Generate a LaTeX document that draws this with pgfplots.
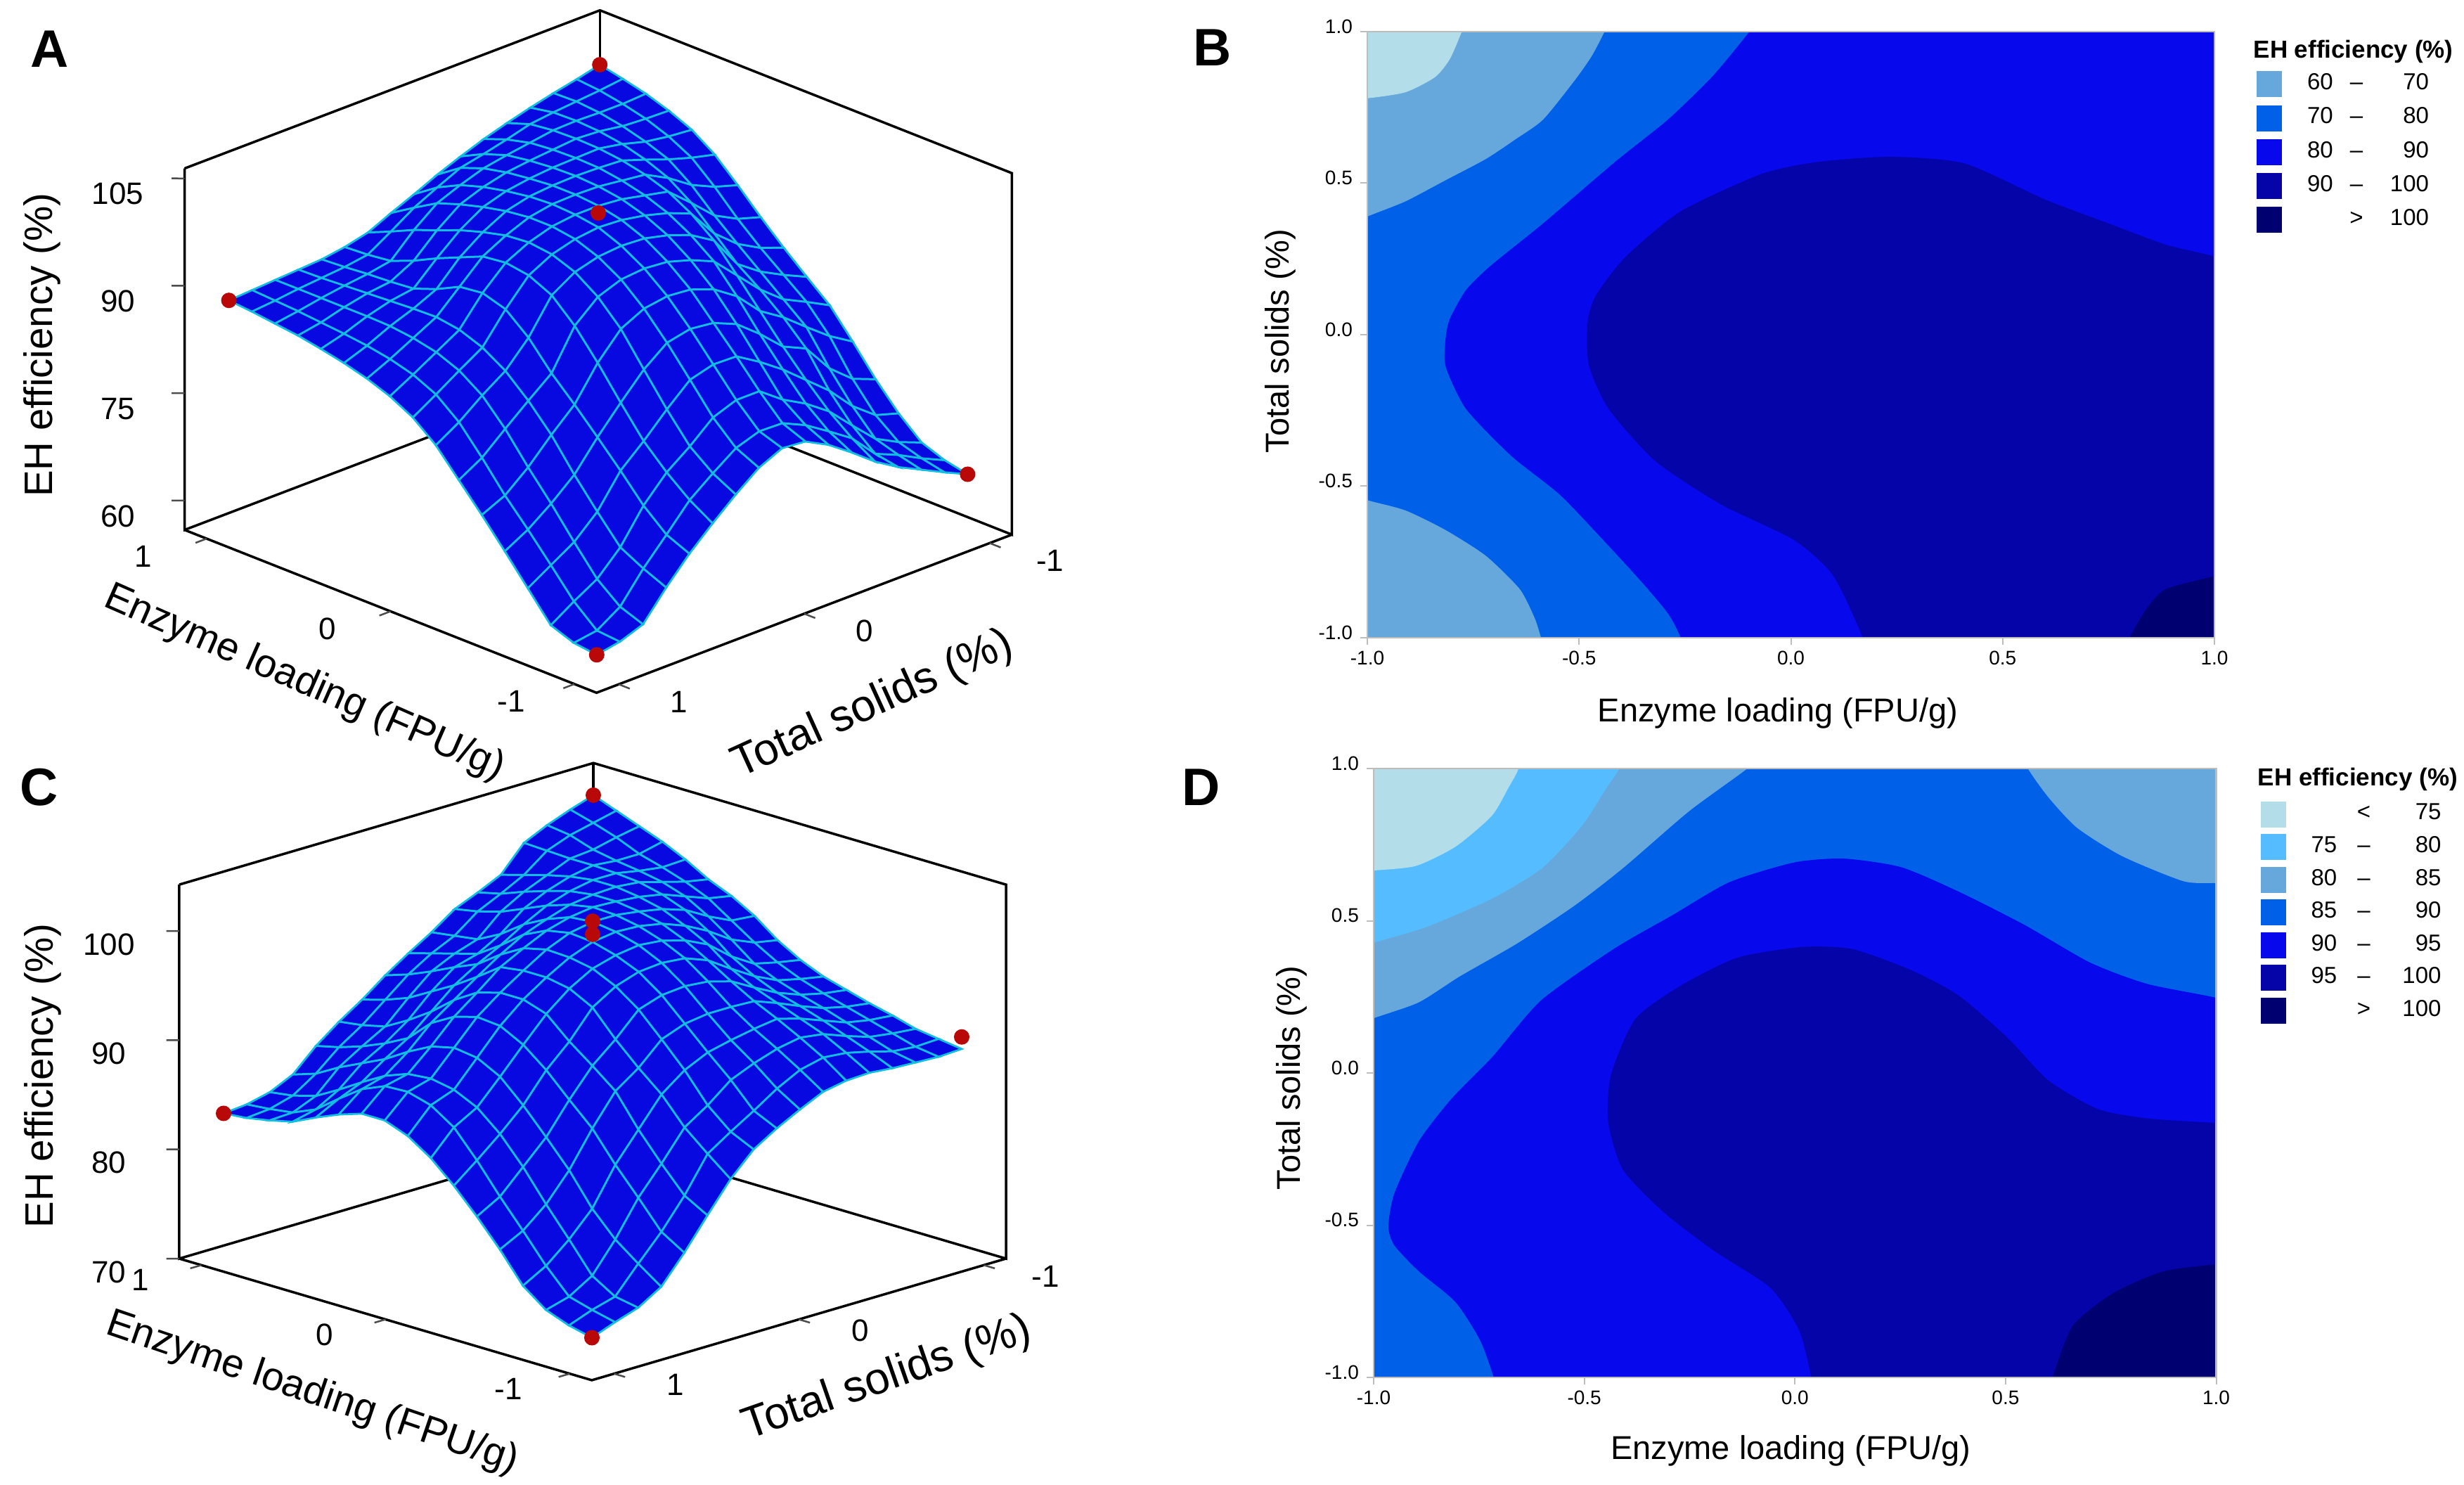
\documentclass[border=0pt]{standalone}
\usepackage{fontspec}
\setmainfont{Liberation Sans}
\usepackage{pgfplots}
\usepackage{pgfplotstable}
\pgfplotsset{compat=1.18}

\definecolor{surfblue}{HTML}{0808E0}
\definecolor{surfcyan}{HTML}{10BEE0}
\definecolor{dotred}{HTML}{B80808}
\definecolor{lev0}{HTML}{B2DDE9}
\definecolor{levs}{HTML}{55BDFF}
\definecolor{lev1}{HTML}{67A8DC}
\definecolor{lev2}{HTML}{0060E8}
\definecolor{lev3}{HTML}{0808EC}
\definecolor{lev4}{HTML}{0404A8}
\definecolor{lev5}{HTML}{000070}
\definecolor{framegray}{HTML}{BDBDBD}

% surface heights, 17 x 17, rows from total solids = 1 to -1, enzyme -1 to 1
\pgfplotstableread[row sep=\\]{z\\
58.8\\59.2\\60.4\\64.3\\68.2\\72.0\\75.6\\79.2\\81.8\\83.5\\84.7\\85.6\\86.3\\86.9\\87.3\\87.7\\88.0\\
59.4\\59.7\\62.5\\66.3\\70.0\\73.5\\77.5\\81.2\\83.8\\85.3\\86.2\\86.8\\87.2\\87.5\\87.8\\88.0\\88.2\\
60.6\\61.8\\64.4\\68.3\\72.4\\76.2\\80.3\\83.7\\85.9\\87.2\\87.9\\88.3\\88.4\\88.4\\88.4\\88.4\\88.4\\
64.5\\65.9\\67.6\\71.3\\75.2\\79.5\\83.0\\85.9\\87.9\\89.1\\89.6\\89.5\\89.3\\89.1\\88.9\\88.7\\88.6\\
68.0\\69.4\\72.2\\75.8\\79.2\\82.5\\85.6\\89.3\\92.0\\93.0\\92.6\\91.0\\89.8\\89.5\\89.3\\89.0\\88.8\\
71.0\\73.0\\75.6\\78.7\\82.8\\87.1\\91.0\\94.0\\95.5\\96.0\\95.6\\94.2\\92.8\\91.2\\89.9\\89.5\\89.3\\
73.8\\75.5\\78.0\\81.9\\86.2\\90.6\\93.8\\96.0\\97.2\\97.6\\97.3\\96.5\\95.5\\94.2\\93.0\\91.5\\90.1\\
76.3\\77.8\\80.8\\84.8\\88.7\\92.2\\95.0\\96.9\\98.1\\98.6\\98.6\\98.2\\97.5\\96.6\\95.5\\93.6\\91.6\\
77.8\\78.9\\82.0\\85.7\\89.4\\92.7\\95.3\\97.2\\98.5\\99.0\\99.2\\99.0\\98.5\\97.8\\96.8\\95.2\\93.0\\
77.5\\78.8\\82.0\\85.6\\89.0\\92.4\\95.0\\97.0\\98.3\\99.0\\99.3\\99.3\\99.0\\98.6\\97.9\\96.7\\94.5\\
75.8\\77.3\\79.6\\83.6\\87.6\\91.2\\94.0\\96.2\\97.7\\98.7\\99.2\\99.4\\99.3\\99.0\\98.5\\97.4\\95.8\\
73.5\\75.2\\77.8\\81.3\\85.0\\89.0\\92.6\\95.0\\96.8\\98.0\\98.8\\99.3\\99.4\\99.3\\99.0\\98.2\\97.0\\
71.0\\73.0\\75.5\\78.6\\82.0\\85.7\\89.4\\93.0\\95.5\\97.3\\98.4\\99.1\\99.5\\99.6\\99.5\\99.1\\98.0\\
69.0\\69.6\\72.3\\75.9\\80.5\\83.6\\86.2\\88.5\\91.5\\94.5\\96.7\\98.0\\98.9\\99.4\\99.6\\99.5\\98.9\\
67.4\\68.2\\69.2\\72.5\\76.5\\81.0\\83.6\\86.2\\88.8\\91.5\\94.5\\96.8\\98.0\\98.9\\99.5\\99.8\\99.7\\
65.8\\66.5\\67.5\\70.0\\73.8\\78.5\\82.0\\84.5\\87.0\\89.8\\93.0\\95.8\\97.5\\98.7\\99.5\\100.1\\100.4\\
64.3\\65.0\\66.2\\69.0\\72.5\\76.5\\80.3\\83.0\\85.8\\88.8\\92.0\\95.0\\97.2\\98.6\\99.7\\100.5\\101.2\\
}\tabA

\pgfplotstableread[row sep=\\]{z\\
72.7\\73.2\\74.0\\75.6\\78.3\\80.7\\82.9\\84.8\\86.2\\87.0\\87.0\\86.3\\85.4\\84.4\\83.9\\83.5\\83.3\\
73.5\\74.0\\74.6\\76.8\\79.4\\81.9\\84.6\\87.0\\88.4\\89.0\\88.9\\88.0\\86.5\\84.9\\84.0\\83.7\\83.5\\
74.2\\74.6\\75.9\\78.6\\81.2\\84.0\\86.4\\88.2\\89.2\\89.6\\89.4\\88.6\\87.4\\86.1\\84.9\\84.3\\84.0\\
75.5\\77.0\\78.6\\80.8\\83.7\\86.1\\88.4\\90.4\\91.5\\91.8\\91.3\\90.2\\88.9\\87.9\\86.9\\85.7\\85.0\\
78.0\\79.3\\81.8\\84.2\\86.9\\88.9\\91.0\\92.7\\93.8\\94.0\\93.4\\92.2\\90.2\\89.1\\88.2\\87.5\\87.0\\
80.8\\82.0\\84.3\\86.8\\89.7\\91.4\\93.0\\94.9\\95.6\\95.6\\95.0\\93.7\\92.0\\90.6\\89.4\\88.9\\88.6\\
83.5\\85.2\\87.0\\89.4\\91.2\\93.2\\95.5\\96.6\\97.0\\97.0\\96.7\\95.2\\93.8\\92.6\\91.4\\90.6\\90.0\\
85.6\\86.6\\88.4\\91.0\\93.2\\95.3\\96.8\\97.8\\98.2\\98.3\\97.8\\96.6\\95.1\\94.2\\93.2\\92.3\\91.6\\
86.9\\87.9\\90.1\\92.0\\94.0\\96.0\\97.5\\98.4\\99.0\\99.2\\98.8\\97.8\\96.2\\94.8\\94.2\\93.6\\93.0\\
88.0\\89.3\\91.0\\92.5\\94.3\\96.2\\97.7\\98.7\\99.3\\99.6\\99.4\\98.6\\97.5\\96.0\\94.9\\94.6\\94.3\\
89.0\\90.4\\91.7\\92.9\\94.3\\96.0\\97.5\\98.5\\99.2\\99.6\\99.7\\99.3\\98.6\\97.7\\96.8\\96.2\\95.8\\
89.4\\90.9\\92.1\\93.2\\94.2\\95.4\\96.7\\97.9\\98.8\\99.3\\99.6\\99.6\\99.3\\98.7\\98.0\\97.2\\96.7\\
89.5\\90.7\\91.8\\92.6\\93.4\\94.2\\95.3\\96.9\\98.0\\98.9\\99.4\\99.7\\99.7\\99.4\\98.9\\98.3\\97.7\\
89.3\\90.2\\91.0\\91.8\\92.5\\93.1\\94.0\\95.2\\96.9\\98.2\\99.0\\99.5\\99.7\\99.8\\99.8\\99.9\\100.0\\
89.2\\89.6\\90.3\\91.0\\91.7\\92.3\\93.0\\93.9\\95.5\\97.0\\98.2\\98.9\\99.3\\99.6\\100.0\\100.7\\101.0\\
89.1\\89.4\\90.0\\90.6\\91.2\\91.8\\92.5\\93.4\\94.6\\96.0\\97.4\\98.3\\99.0\\99.6\\100.5\\101.2\\101.8\\
89.2\\89.5\\89.8\\90.4\\90.9\\91.5\\92.1\\93.0\\94.2\\95.8\\97.0\\97.9\\99.1\\100.1\\100.9\\101.7\\102.5\\
}\tabC

\newcommand{\fsz}[1]{\fontsize{#1}{#1}\selectfont}
\newcommand{\lrow}[3]{\hspace*{5.2pt}\makebox[10pt][l]{#1}\makebox[8pt][c]{#2}\makebox[16.6pt][r]{#3}}
\newcommand{\lrowD}[3]{\hspace*{5.2pt}\makebox[10pt][l]{#1}\makebox[10pt][c]{#2}\makebox[17pt][r]{#3}}

\pgfplotsset{
  surfaxis/.style={
    clip=false,
    axis line style={draw=none},
    tick style={draw=none},
    xmin=-1.12,xmax=1.12,ymin=-1.12,ymax=1.12,
    xtick={-1,0,1},ytick={-1,0,1},
    /pgf/number format/assume math mode=true,
    ticklabel style={font=\fsz{8.8}},
    x label style={font=\fsz{11.3}},
    y label style={font=\fsz{12.7}},
    z label style={font=\fsz{11.3}},
    unbounded coords=jump,
    colormap={solidblue}{color=(surfblue) color=(surfblue)},
  },
  surfmesh/.style={surf,shader=faceted,faceted color=surfcyan,line width=0.55pt,z buffer=sort,mesh/rows=17,mesh/cols=17},
  boxline/.style={black,line width=0.7pt,mark=none,forget plot},
  tickmark/.style={black!70,line width=0.5pt,mark=none,forget plot},
  reddot/.style={only marks,mark=*,mark size=2pt,color=dotred,mark options={solid,fill=dotred,draw=dotred}},
  contouraxis/.style={
    scale only axis,
    clip mode=individual,
    axis on top,
    xmin=-1,xmax=1,ymin=-1,ymax=1,
    xtick={-1,-0.5,0,0.5,1},ytick={-1,-0.5,0,0.5,1},
    tick pos=lower,
    tick align=outside,
    axis line style={framegray,line width=0.5pt},
    tick style={framegray,line width=0.4pt},
    major tick length=2pt,
    /pgf/number format/assume math mode=true,
    /pgf/number format/fixed,
    /pgf/number format/fixed zerofill,
    /pgf/number format/precision=1,
    ticklabel style={font=\fsz{5.6}},
    xticklabel style={yshift=1.8pt},
    yticklabel style={xshift=1.3pt,yshift=1.5pt},
    label style={font=\fsz{9.4}},
    legend cell align=left,
    legend style={draw=none,fill=none,inner sep=0pt,outer sep=0pt,font=\fsz{6.6},row sep=-0.45pt},
    legend image code/.code={\fill[##1] (0pt,-3.7pt) rectangle (7.2pt,3.7pt);},
  },
  swatch/.style={fill=#1,draw=none},
  region/.style={fill=#1,draw=none,forget plot,mark=none},
  curve/.style={region=#1,smooth,tension=0.4},
}

\begin{document}
\begin{tikzpicture}
\path[use as bounding box] (0,0) rectangle (701pt,-422.4pt);

% panel A
\begin{axis}[surfaxis,
  at={(170.2pt,-151.4pt)},anchor=origin,
  x={(-52.32pt,20.68pt)},y={(-52.76pt,-20.08pt)},z={(0pt,2.036pt)},
  zmin=55.9,zmax=106.4,
  ztick={60,75,90,105},
  xticklabel style={anchor=center,xshift=-18pt,yshift=-5pt},
  yticklabel style={anchor=center,xshift=17.2pt,yshift=-5pt},
  zticklabel style={anchor=center,xshift=-19pt,yshift=-4.4pt},
  xlabel={Enzyme loading (FPU/g)},
  ylabel={Total solids (\%)},
  zlabel={EH efficiency (\%)},
  x label style={at={(axis cs:-0.275,1.858,55.9)},anchor=center,rotate=-23.7},
  y label style={at={(axis cs:-1.945,0.447,55.9)},anchor=center,rotate=24.4},
  z label style={at={(axis cs:1.505,1.505,81.6)},anchor=center},
]
\addplot3[boxline] coordinates {(1.12,1.12,106.4) (1.12,-1.12,106.4) (-1.12,-1.12,106.4) (-1.12,-1.12,55.9) (1.12,-1.12,55.9) (1.12,1.12,55.9) (1.12,1.12,106.4)};
\addplot3[boxline] coordinates {(1.12,1.12,55.9) (-1.12,1.12,55.9) (-1.12,-1.12,55.9)};
\addplot3[boxline] coordinates {(1.12,-1.12,55.9) (1.12,-1.12,106.4)};
\addplot3[tickmark] coordinates {(-1,1.12,55.9) (-1,1.18,55.9) (nan,nan,nan) (0,1.12,55.9) (0,1.18,55.9) (nan,nan,nan) (1,1.12,55.9) (1,1.18,55.9) (nan,nan,nan)
  (-1.12,-1,55.9) (-1.18,-1,55.9) (nan,nan,nan) (-1.12,0,55.9) (-1.18,0,55.9) (nan,nan,nan) (-1.12,1,55.9) (-1.18,1,55.9) (nan,nan,nan)
  (1.12,1.12,60) (1.155,1.155,60) (nan,nan,nan) (1.12,1.12,75) (1.155,1.155,75) (nan,nan,nan) (1.12,1.12,90) (1.155,1.155,90) (nan,nan,nan) (1.12,1.12,105) (1.155,1.155,105)};
\addplot3[surfmesh] table[x expr={-1+floor(mod(\coordindex+0.5,17))/8},y expr={1-floor((\coordindex+0.5)/17)/8},z index=0,x index=0,y index=0] {\tabA};
\addplot3[reddot] coordinates {(-1,1,58.8) (1,1,88.0) (-1,-1,64.3) (1,-1,101.2) (0,0,100.5)};
\end{axis}

% panel C
\begin{axis}[surfaxis,
  at={(168.6pt,-358pt)},anchor=origin,
  x={(-52.4pt,15.44pt)},y={(-52.6pt,-15.44pt)},z={(0pt,3.106pt)},
  zmin=70,zmax=104.25,
  ztick={70,80,90,100},
  xticklabel style={anchor=center,xshift=-17.4pt,yshift=-4.3pt},
  yticklabel style={anchor=center,xshift=17.5pt,yshift=-3.2pt},
  zticklabel style={anchor=center,xshift=-20pt,yshift=-3.8pt},
  xlabel={Enzyme loading (FPU/g)},
  ylabel={Total solids (\%)},
  zlabel={EH efficiency (\%)},
  x label style={at={(axis cs:-0.486,2.0,70)},anchor=center,rotate=-18.8},
  y label style={at={(axis cs:-1.908,0.307,70)},anchor=center,rotate=19.2},
  z label style={at={(axis cs:1.49,1.49,86.74)},anchor=center},
]
\addplot3[boxline] coordinates {(1.12,1.12,104.25) (1.12,-1.12,104.25) (-1.12,-1.12,104.25) (-1.12,-1.12,70) (1.12,-1.12,70) (1.12,1.12,70) (1.12,1.12,104.25)};
\addplot3[boxline] coordinates {(1.12,1.12,70) (-1.12,1.12,70) (-1.12,-1.12,70)};
\addplot3[boxline] coordinates {(1.12,-1.12,70) (1.12,-1.12,104.25)};
\addplot3[tickmark] coordinates {(-1,1.12,70) (-1,1.18,70) (nan,nan,nan) (0,1.12,70) (0,1.18,70) (nan,nan,nan) (1,1.12,70) (1,1.18,70) (nan,nan,nan)
  (-1.12,-1,70) (-1.18,-1,70) (nan,nan,nan) (-1.12,0,70) (-1.18,0,70) (nan,nan,nan) (-1.12,1,70) (-1.18,1,70) (nan,nan,nan)
  (1.12,1.12,70) (1.155,1.155,70) (nan,nan,nan) (1.12,1.12,80) (1.155,1.155,80) (nan,nan,nan) (1.12,1.12,90) (1.155,1.155,90) (nan,nan,nan) (1.12,1.12,100) (1.155,1.155,100)};
\addplot3[surfmesh] table[x expr={-1+floor(mod(\coordindex+0.5,17))/8},y expr={1-floor((\coordindex+0.5)/17)/8},z index=0,x index=0,y index=0] {\tabC};
\addplot3[reddot] coordinates {(-1,1,72.7) (1,1,83.3) (-1,-1,90.3) (1,-1,102.5) (0,0,100.9) (0,0,99.7)};
\end{axis}

% panel B
\begin{axis}[contouraxis,
  at={(389pt,-181.4pt)},anchor=south west,width=241pt,height=172.4pt,
  xlabel={Enzyme loading (FPU/g)},ylabel={Total solids (\%)},
  x label style={at={(axis description cs:0.4846,-0.124)},anchor=center},
  y label style={at={(axis description cs:-0.103,0.4896)},anchor=center},
  legend style={at={(axis description cs:1.0498,0.9425)},anchor=north west},
]
\addplot[region=lev2] coordinates {(-1,-1) (1,-1) (1,1) (-1,1)} --cycle;
\addplot[curve=lev1] coordinates {(-1.25,0.25) (-1.1,0.33) (-1,0.39) (-0.91,0.44) (-0.815,0.51) (-0.72,0.58) (-0.65,0.645) (-0.585,0.71) (-0.51,0.84) (-0.47,0.92) (-0.44,1) (-0.40,1.12) (-0.36,1.3) (-1.5,1.5)};
\addplot[curve=lev0] coordinates {(-1.2,0.76) (-1.1,0.77) (-1,0.78) (-0.91,0.80) (-0.84,0.85) (-0.805,0.91) (-0.777,1) (-0.75,1.1) (-0.72,1.3) (-1.5,1.5)};
\addplot[curve=lev1] coordinates {(-1.25,-0.43) (-1.1,-0.5) (-1,-0.546) (-0.91,-0.58) (-0.815,-0.645) (-0.72,-0.73) (-0.64,-0.84) (-0.605,-0.935) (-0.59,-1) (-0.57,-1.1) (-0.55,-1.3) (-1.5,-1.5)};
\addplot[curve=lev3] coordinates {(0,1.3) (-0.05,1.1) (-0.098,1) (-0.184,0.854) (-0.29,0.71) (-0.415,0.57) (-0.585,0.367) (-0.71,0.226) (-0.767,0.147) (-0.805,0.053) (-0.815,-0.01) (-0.815,-0.105) (-0.767,-0.245) (-0.66,-0.40) (-0.547,-0.526) (-0.45,-0.667) (-0.356,-0.81) (-0.29,-0.92) (-0.26,-1) (-0.24,-1.1) (-0.2,-1.3) (1.5,-1.5) (1.5,1.5)};
\addplot[curve=lev4] coordinates {(0.22,-1.3) (0.19,-1.1) (0.17,-1) (0.10,-0.795) (0.007,-0.677) (-0.165,-0.56) (-0.32,-0.417) (-0.43,-0.245) (-0.477,-0.10) (-0.48,0.04) (-0.46,0.13) (-0.39,0.257) (-0.26,0.407) (-0.07,0.53) (0.063,0.57) (0.235,0.587) (0.41,0.565) (0.6,0.446) (0.75,0.367) (0.885,0.297) (1,0.258) (1.12,0.2) (1.3,0.12) (1.5,-1.5)};
\addplot[curve=lev5] coordinates {(1.3,-0.72) (1.12,-0.76) (1,-0.797) (0.885,-0.84) (0.84,-0.904) (0.80,-1) (0.77,-1.1) (0.74,-1.3) (1.5,-1.5)};
\addlegendimage{swatch=lev1}\addlegendentry{\lrow{60}{–}{70}}
\addlegendimage{swatch=lev2}\addlegendentry{\lrow{70}{–}{80}}
\addlegendimage{swatch=lev3}\addlegendentry{\lrow{80}{–}{90}}
\addlegendimage{swatch=lev4}\addlegendentry{\lrow{90}{–}{100}}
\addlegendimage{swatch=lev5}\addlegendentry{\lrow{}{>}{100}}
\node[font=\bfseries\fsz{7},anchor=center] at (axis description cs:1.164,0.9675) {EH efficiency (\%)};
\end{axis}

% panel D
\begin{axis}[contouraxis,
  at={(390.8pt,-391.8pt)},anchor=south west,width=239.7pt,height=173.2pt,
  xlabel={Enzyme loading (FPU/g)},ylabel={Total solids (\%)},
  x label style={at={(axis description cs:0.495,-0.12)},anchor=center},
  y label style={at={(axis description cs:-0.0977,0.492)},anchor=center},
  legend style={at={(axis description cs:1.0526,0.9535)},anchor=north west,row sep=-0.8pt},
]
\addplot[region=lev2] coordinates {(-1,-1) (1,-1) (1,1) (-1,1)} --cycle;
\addplot[curve=lev1] coordinates {(-1.25,0.06) (-1.1,0.13) (-1,0.18) (-0.893,0.232) (-0.796,0.317) (-0.66,0.425) (-0.524,0.549) (-0.408,0.673) (-0.252,0.859) (-0.113,1) (-0.03,1.1) (0.1,1.3) (-1.5,1.5)};
\addplot[curve=levs] coordinates {(-1.25,0.33) (-1.1,0.39) (-1,0.428) (-0.874,0.48) (-0.72,0.572) (-0.60,0.673) (-0.505,0.813) (-0.447,0.937) (-0.417,1) (-0.39,1.1) (-0.35,1.3) (-1.5,1.5)};
\addplot[curve=lev0] coordinates {(-1.25,0.64) (-1.1,0.655) (-1,0.665) (-0.90,0.68) (-0.806,0.743) (-0.72,0.844) (-0.68,0.937) (-0.656,1) (-0.64,1.1) (-0.6,1.3) (-1.5,1.5)};
\addplot[curve=lev1] coordinates {(0.5,1.3) (0.52,1.1) (0.553,1) (0.602,0.905) (0.67,0.805) (0.777,0.712) (0.922,0.63) (1,0.624) (1.1,0.62) (1.3,0.62) (1.5,1.5)};
\addplot[curve=lev3] coordinates {(-0.68,-1.3) (-0.70,-1.1) (-0.715,-1) (-0.748,-0.876) (-0.806,-0.752) (-0.893,-0.651) (-0.951,-0.566) (-0.965,-0.504) (-0.951,-0.396) (-0.893,-0.225) (-0.816,-0.086) (-0.718,0.053) (-0.602,0.239) (-0.427,0.41) (-0.291,0.518) (-0.155,0.627) (0.0,0.692) (0.117,0.704) (0.252,0.676) (0.388,0.596) (0.544,0.487) (0.70,0.363) (0.835,0.293) (1,0.247) (1.12,0.2) (1.3,0.12) (1.5,-1.5)};
\addplot[curve=lev4] coordinates {(0.06,-1.3) (0.05,-1.1) (0.039,-1) (0.01,-0.845) (-0.058,-0.706) (-0.194,-0.582) (-0.311,-0.458) (-0.408,-0.318) (-0.443,-0.163) (-0.437,-0.008) (-0.379,0.177) (-0.272,0.286) (-0.136,0.379) (0.019,0.414) (0.136,0.407) (0.272,0.34) (0.388,0.255) (0.505,0.115) (0.602,-0.025) (0.718,-0.118) (0.835,-0.149) (1,-0.164) (1.12,-0.17) (1.3,-0.18) (1.5,-1.5)};
\addplot[curve=lev5] coordinates {(0.58,-1.3) (0.6,-1.1) (0.612,-1) (0.66,-0.83) (0.757,-0.722) (0.874,-0.652) (1,-0.628) (1.12,-0.61) (1.3,-0.6) (1.5,-1.5)};
\addlegendimage{swatch=lev0}\addlegendentry{\lrowD{}{<}{75}}
\addlegendimage{swatch=levs}\addlegendentry{\lrowD{75}{–}{80}}
\addlegendimage{swatch=lev1}\addlegendentry{\lrowD{80}{–}{85}}
\addlegendimage{swatch=lev2}\addlegendentry{\lrowD{85}{–}{90}}
\addlegendimage{swatch=lev3}\addlegendentry{\lrowD{90}{–}{95}}
\addlegendimage{swatch=lev4}\addlegendentry{\lrowD{95}{–}{100}}
\addlegendimage{swatch=lev5}\addlegendentry{\lrowD{}{>}{100}}
\node[font=\bfseries\fsz{7},anchor=center] at (axis description cs:1.168,0.9827) {EH efficiency (\%)};
\end{axis}

\node[font=\bfseries\fsz{15}] at (14.2pt,-14pt) {A};
\node[font=\bfseries\fsz{15}] at (345pt,-13.6pt) {B};
\node[font=\bfseries\fsz{15}] at (11.2pt,-224pt) {C};
\node[font=\bfseries\fsz{15}] at (341.8pt,-224pt) {D};
\end{tikzpicture}
\end{document}
